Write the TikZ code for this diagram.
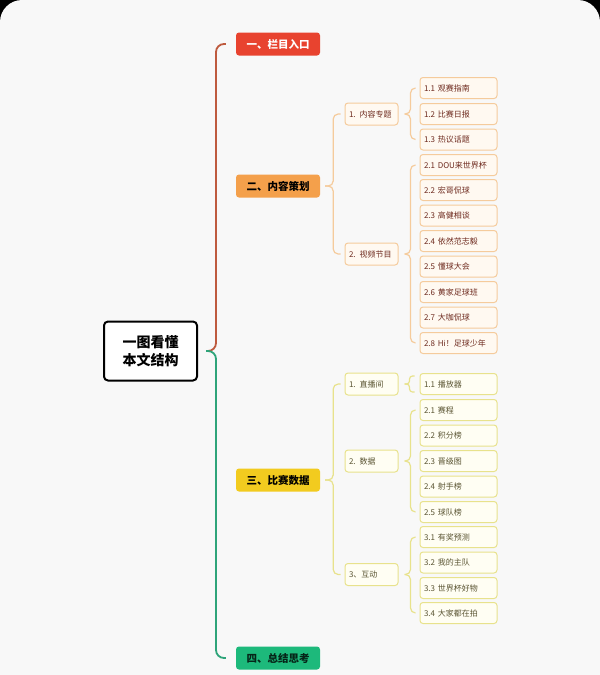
\documentclass[tikz,border=0pt]{standalone}
\usepackage{fontspec}
\setmainfont{Noto Sans CJK SC}
\usetikzlibrary{calc}
\definecolor{bgc}{HTML}{F8F8F8}
\definecolor{cred}{HTML}{E8432F}
\definecolor{corange}{HTML}{F4A04B}
\definecolor{cyellow}{HTML}{F2CB1F}
\definecolor{cgreen}{HTML}{1DB97B}
\definecolor{ltop}{HTML}{BE5A3E}
\definecolor{lbot}{HTML}{2EA47A}
\definecolor{lorange}{HTML}{F5CB9C}
\definecolor{lyellow}{HTML}{E8E28C}
\definecolor{forange}{HTML}{FFF9F1}
\definecolor{fyellow}{HTML}{FFFEF3}
\definecolor{torange}{HTML}{6E2A1E}
\definecolor{tyellow}{HTML}{5A5432}
\begin{document}
\begin{tikzpicture}[x=1pt,y=-1pt,
  centerbox/.style={draw=black,line width=2pt,rounded corners=4pt,fill=white,
    minimum width=93pt,minimum height=59pt,align=center,inner sep=0pt,
    font=\bfseries\fontsize{14}{18}\selectfont},
  mainbox/.style={rounded corners=3pt,minimum width=84pt,minimum height=23pt,
    inner sep=0pt,font=\bfseries\fontsize{10.5}{12}\selectfont},
  lvtwo/.style={rounded corners=3pt,line width=1pt,minimum width=53pt,
    minimum height=22pt,inner sep=0pt,text width=45pt,align=left,
    font=\fontsize{8}{10}\selectfont},
  lvthree/.style={rounded corners=3pt,line width=1pt,minimum width=77pt,
    minimum height=21pt,inner sep=0pt,text width=69pt,align=left,
    font=\fontsize{8}{10}\selectfont},
  oA/.style={draw=lorange,fill=forange,text=torange},
  yA/.style={draw=lyellow,fill=fyellow,text=tyellow},
  brtop/.style={draw=ltop,line width=1.8pt,rounded corners=8pt},
  brbot/.style={draw=lbot,line width=1.8pt,rounded corners=8pt},
  bro/.style={draw=lorange,line width=1.2pt,rounded corners=5pt},
  bry/.style={draw=lyellow,line width=1.2pt,rounded corners=5pt}
]
\useasboundingbox (0,0) rectangle (600,675);
\fill[black] (0,0) rectangle (600,40);
\fill[bgc,rounded corners=22pt] (0,0) rectangle (600,80);
\fill[bgc] (0,40) rectangle (600,675);

% center
\node[centerbox] (c) at (150.5,351) {一图看懂\\本文结构};

% main nodes
\node[mainbox,fill=cred,text=white] (m1) at (278,44) {一、栏目入口};
\node[mainbox,fill=corange,text=black] (m2) at (278,186) {二、内容策划};
\node[mainbox,fill=cyellow,text=black] (m3) at (278,480) {三、比赛数据};
\node[mainbox,fill=cgreen,text=black!80!cgreen] (m4) at (278,658) {四、总结思考};

\coordinate (J0) at ($(c.east)+(18,0)$);
\draw[brtop] ($(m1.west)+(-10,0)$) -| (J0) -- ($(c.east)+(8,0)$);
\draw[brbot] ($(m4.west)+(-10,0)$) -| (J0) -- ($(c.east)+(8,0)$);

% level 2 under 二
\node[lvtwo,oA] (a1) at (371.5,114) {1. 内容专题};
\node[lvtwo,oA] (a2) at (371.5,254) {2. 视频节目};
\coordinate (J2) at ($(m2.east)+(13,0)$);
\draw[bro] ($(a1.west)+(-4,0)$) -| (J2) -- ($(m2.east)+(5,0)$);
\draw[bro] ($(a2.west)+(-4,0)$) -| (J2) -- ($(m2.east)+(5,0)$);

% level 3 under 内容专题
\node[lvthree,oA] (b11) at (458.5,88) {1.1 观赛指南};
\node[lvthree,oA] (b12) at (458.5,114) {1.2 比赛日报};
\node[lvthree,oA] (b13) at (458.5,139.5) {1.3 热议话题};
\coordinate (Ja1) at ($(a1.east)+(12,0)$);
\draw[bro] ($(b11.west)+(-4,0)$) -| (Ja1) -- ($(a1.east)+(6,0)$);
\draw[bro] ($(b13.west)+(-4,0)$) -| (Ja1) -- ($(a1.east)+(6,0)$);

% level 3 under 视频节目
\node[lvthree,oA] (b21) at (458.5,165) {2.1 DOU来世界杯};
\node[lvthree,oA] (b22) at (458.5,190) {2.2 宏哥侃球};
\node[lvthree,oA] (b23) at (458.5,215.5) {2.3 高健相谈};
\node[lvthree,oA] (b24) at (458.5,241) {2.4 依然范志毅};
\node[lvthree,oA] (b25) at (458.5,266.5) {2.5 懂球大会};
\node[lvthree,oA] (b26) at (458.5,292) {2.6 黄家足球班};
\node[lvthree,oA] (b27) at (458.5,317.5) {2.7 大咖侃球};
\node[lvthree,oA] (b28) at (458.5,343) {2.8 Hi！足球少年};
\coordinate (Ja2) at ($(a2.east)+(12,0)$);
\draw[bro] ($(b21.west)+(-4,0)$) -| (Ja2) -- ($(a2.east)+(6,0)$);
\draw[bro] ($(b28.west)+(-4,0)$) -| (Ja2) -- ($(a2.east)+(6,0)$);

% level 2 under 三
\node[lvtwo,yA] (d1) at (371.5,384) {1. 直播间};
\node[lvtwo,yA] (d2) at (371.5,461) {2. 数据};
\node[lvtwo,yA] (d3) at (371.5,574.5) {3、互动};
\coordinate (J3) at ($(m3.east)+(13,0)$);
\draw[bry] ($(d1.west)+(-4,0)$) -| (J3) -- ($(m3.east)+(5,0)$);
\draw[bry] ($(d3.west)+(-4,0)$) -| (J3) -- ($(m3.east)+(5,0)$);

% level 3 under 直播间
\node[lvthree,yA] (e11) at (458.5,384) {1.1 播放器};
\coordinate (Jd1) at ($(d1.east)+(11,0)$);
\draw[bry,rounded corners=3pt] ($(e11.west)+(-5,-8)$) -| (Jd1) -- ($(d1.east)+(6,0)$);
\draw[bry,rounded corners=3pt] ($(e11.west)+(-5,8)$) -| (Jd1) -- ($(d1.east)+(6,0)$);

% level 3 under 数据
\node[lvthree,yA] (e21) at (458.5,410) {2.1 赛程};
\node[lvthree,yA] (e22) at (458.5,435.5) {2.2 积分榜};
\node[lvthree,yA] (e23) at (458.5,461) {2.3 晋级图};
\node[lvthree,yA] (e24) at (458.5,486.5) {2.4 射手榜};
\node[lvthree,yA] (e25) at (458.5,512) {2.5 球队榜};
\coordinate (Jd2) at ($(d2.east)+(12,0)$);
\draw[bry] ($(e21.west)+(-4,0)$) -| (Jd2) -- ($(d2.east)+(6,0)$);
\draw[bry] ($(e25.west)+(-4,0)$) -| (Jd2) -- ($(d2.east)+(6,0)$);

% level 3 under 互动
\node[lvthree,yA] (e31) at (458.5,537) {3.1 有奖预测};
\node[lvthree,yA] (e32) at (458.5,562.5) {3.2 我的主队};
\node[lvthree,yA] (e33) at (458.5,588) {3.3 世界杯好物};
\node[lvthree,yA] (e34) at (458.5,613) {3.4 大家都在拍};
\coordinate (Jd3) at ($(d3.east)+(12,0)$);
\draw[bry] ($(e31.west)+(-4,0)$) -| (Jd3) -- ($(d3.east)+(6,0)$);
\draw[bry] ($(e34.west)+(-4,0)$) -| (Jd3) -- ($(d3.east)+(6,0)$);
\end{tikzpicture}
\end{document}
